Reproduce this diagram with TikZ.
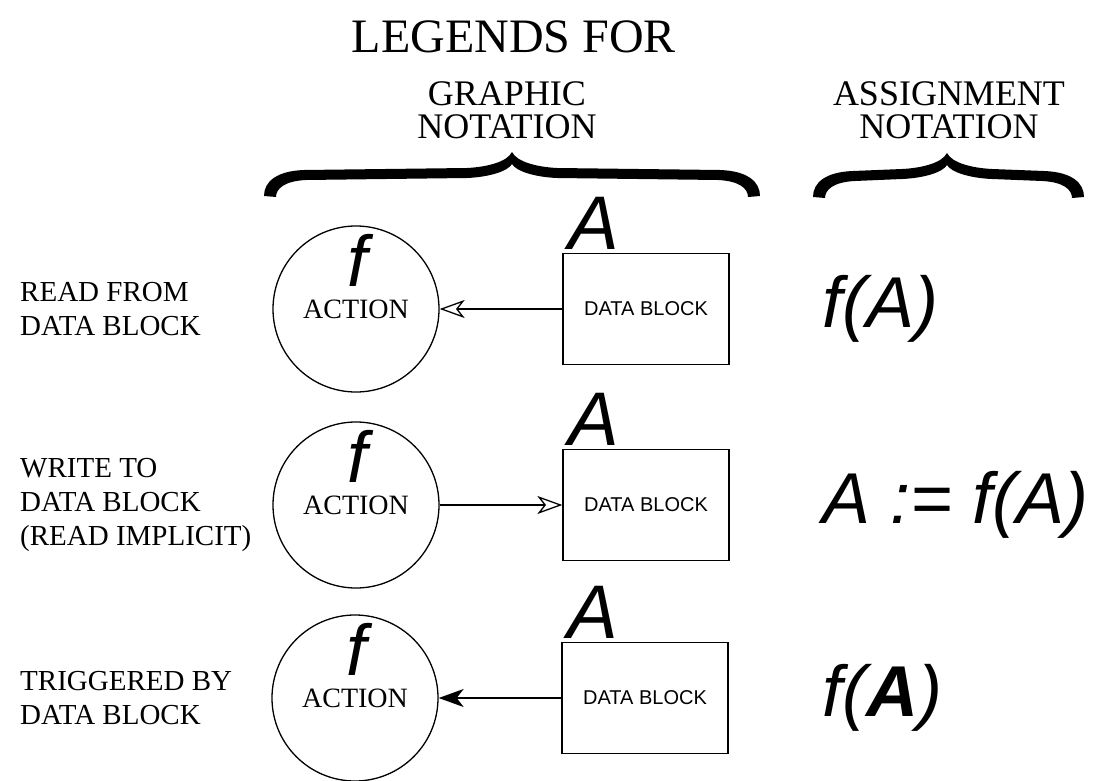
\documentclass[tikz,border=0pt]{standalone}
\usepackage{fontspec}
\setmainfont{Liberation Serif}
\newfontfamily\sansf{Liberation Sans}
\usetikzlibrary{arrows.meta,calc}

% Thick curly brace, tip pointing up: #1 tip x, #2 tip y, #3 left end x, #4 right end x
\newcommand{\legendbrace}[4]{%
  \fill (#3,#2+44) .. controls (#3,#2+30) and (#3+12,#2+19) .. (#3+40,#2+18)
    -- (#1-45,#2+16) .. controls (#1-25,#2+15) and (#1-5,#2+10) .. (#1,#2)
    .. controls (#1+5,#2+10) and (#1+25,#2+15) .. (#1+45,#2+16)
    -- (#4-40,#2+18) .. controls (#4-12,#2+19) and (#4,#2+30) .. (#4,#2+44)
    -- (#4-12,#2+45) .. controls (#4-12,#2+37) and (#4-20,#2+29) .. (#4-42,#2+28)
    -- (#1+45,#2+26) .. controls (#1+22,#2+25) and (#1+4,#2+19) .. (#1,#2+12)
    .. controls (#1-4,#2+19) and (#1-22,#2+25) .. (#1-45,#2+26)
    -- (#3+42,#2+28) .. controls (#3+20,#2+29) and (#3+12,#2+37) .. (#3+12,#2+45)
    -- cycle;}

\tikzset{
  action/.style={circle, draw, line width=1.3pt, minimum size=166pt, inner sep=0pt,
    font=\fontsize{28}{30}\selectfont},
  datablock/.style={rectangle, draw, line width=1.3pt, minimum width=166pt,
    minimum height=111pt, inner sep=0pt, font=\sansf\fontsize{20}{20}\selectfont},
  rowlabel/.style={anchor=west, align=left, inner sep=0pt,
    font=\fontsize{29}{34}\selectfont},
  heading/.style={align=center, inner sep=0pt, anchor=base,
    font=\fontsize{36}{33}\selectfont},
  fnlabel/.style={inner sep=0pt, anchor=base, font=\sansf\itshape\fontsize{72}{72}\selectfont},
  blocklabel/.style={inner sep=0pt, anchor=base, font=\sansf\itshape\fontsize{76}{76}\selectfont},
  formula/.style={inner sep=0pt, anchor=west, font=\sansf\itshape\fontsize{72}{72}\selectfont},
  flow/.style={line width=1.3pt},
  openhead/.style={-{Stealth[open, length=25pt, width=18pt, inset=7pt]}},
  solidhead/.style={-{Stealth[length=25pt, width=18pt, inset=7pt]}},
}

\begin{document}
\begin{tikzpicture}[x=1pt, y=-1pt]
  \fill[white] (0,0) rectangle (1098,781);
  \useasboundingbox (0,0) rectangle (1098,781);

  % headings and braces
  \node[inner sep=0pt, anchor=base, font=\fontsize{48}{48}\selectfont] (title) at (514,53) {LEGENDS FOR};
  \node[heading, anchor=base] (graphic) at (507,106) {GRAPHIC};
  \node[heading, anchor=base] (graphicnot) at (507,139) {NOTATION};
  \node[heading, anchor=base] (assign) at (949,106) {ASSIGNMENT};
  \node[heading, anchor=base] (assignnot) at (949,139) {NOTATION};
  \legendbrace{512}{152}{264}{760}
  \legendbrace{947}{153}{813}{1084}

  % row 1: read from data block
  \node[rowlabel] (lab1) at (20,309) {READ FROM\\DATA BLOCK};
  \node[action] (act1) at (356,309) {ACTION};
  \node[fnlabel] (fn1) at (357,286) {f};
  \node[datablock] (blk1) at (646,309) {DATA BLOCK};
  \node[blocklabel] (nm1) at ($(blk1.north west)+(31,-3)$) {A};
  \draw[flow, openhead] (blk1) -- (act1);
  \node[formula] (eq1) at (822,309) {f(A)};

  % row 2: write to data block
  \node[rowlabel] (lab2) at (20,505) {WRITE TO\\DATA BLOCK\\(READ IMPLICIT)};
  \node[action] (act2) at (356,505) {ACTION};
  \node[fnlabel] (fn2) at (357,482) {f};
  \node[datablock] (blk2) at (646,505) {DATA BLOCK};
  \node[blocklabel] (nm2) at ($(blk2.north west)+(31,-3)$) {A};
  \draw[flow, openhead] (act2) -- (blk2);
  \node[formula] (eq2) at (822,505) {A := f(A)};

  % row 3: triggered by data block
  \node[rowlabel] (lab3) at (20,698) {TRIGGERED BY\\DATA BLOCK};
  \node[action] (act3) at (355,698) {ACTION};
  \node[fnlabel] (fn3) at (356,675) {f};
  \node[datablock] (blk3) at (645,698) {DATA BLOCK};
  \node[blocklabel] (nm3) at ($(blk3.north west)+(31,-3)$) {A};
  \draw[flow, solidhead] (blk3) -- (act3);
  \node[formula] (eq3) at (822,698) {f(\textbf{A})};
\end{tikzpicture}
\end{document}
